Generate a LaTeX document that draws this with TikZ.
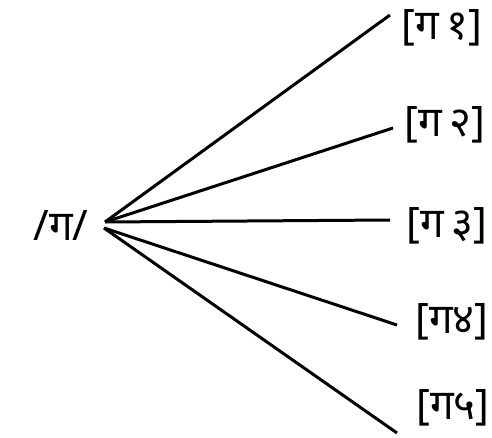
\documentclass[tikz,border=0pt]{standalone}
\usepackage{fontspec}
\newfontfamily\devfont[Script=Devanagari]{Noto Sans}
\usetikzlibrary{positioning}

\begin{document}
\begin{tikzpicture}[x=0.5pt,y=-0.5pt]
\tikzset{allo/.style={font=\devfont\fontsize{21}{24}\selectfont, inner sep=0pt},
  branch/.style={line width=1.5pt}}
\useasboundingbox (0,0) rectangle (492,438);
\node[allo] (g) at (61,226) {/ग/};
\coordinate (hub) at (105,222);
\coordinate (hublow) at (104,228);
\node[allo] (g1) at (442,28) {[ग\,१]};
\node[allo] (g2) at (445,125) {[ग\,२]};
\node[allo] (g3) at (447,226) {[ग\,३]};
\node[allo] (g4) at (452,322) {[ग४]};
\node[allo] (g5) at (453,408) {[ग५]};
\coordinate (e1) at (390,15);
\coordinate (e2) at (393,128);
\coordinate (e3) at (390,220);
\coordinate (e4) at (397,325);
\coordinate (e5) at (397,433);
\draw[branch] (hub) -- (e1);
\draw[branch] (hub) -- (e2);
\draw[branch] (hub) -- (e3);
\draw[branch] (hublow) -- (e4);
\draw[branch] (hublow) -- (e5);
\end{tikzpicture}
\end{document}
